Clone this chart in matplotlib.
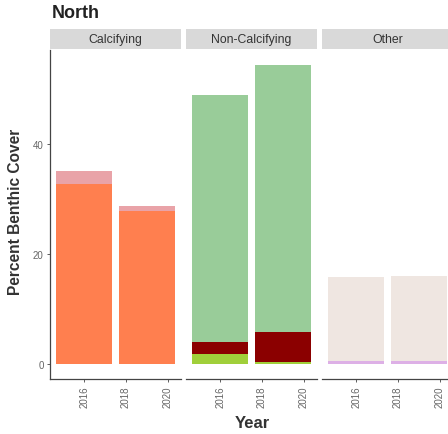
import matplotlib
matplotlib.use("Agg")
import matplotlib.pyplot as plt
import numpy as np

plt.rcParams['font.family'] = ['Liberation Sans', 'DejaVu Sans']

# Survey years (continuous x scale) and tick labels
years = [2016, 2019]
year_ticks = [2016, 2018, 2020]
facets = ["Calcifying", "Non-Calcifying", "Other"]

# Percent benthic cover per group, stacked bottom -> top
calcifying = {
    "Coral": [32.7, 27.8],
    "CCA": [2.4, 1.0],
}
non_calcifying = {
    "Turf": [1.8, 0.3],
    "Macroalgae": [2.3, 5.5],
    "Other algae": [44.8, 48.6],
}
other = {
    "Invertebrates": [0.6, 0.6],
    "Substrate": [15.2, 15.5],
}

colors = {
    "Coral": "#FF7F4F",
    "CCA": "#E9A3A8",
    "Turf": "#A0CF3A",
    "Macroalgae": "#8B0000",
    "Other algae": "#99CC99",
    "Invertebrates": "#DDB0E6",
    "Substrate": "#EFE6E1",
}

W, H = 448, 435
fig = plt.figure(figsize=(W / 100, H / 100), dpi=100)

panel_lefts = [50, 186, 322]
panel_w = 131
panel_top, panel_bot = 51, 380
strip_h = 20

ylim = (-2.72, 57.12)
xlim = (2014.365, 2020.635)
bar_w = 2.7
axis_col = "#444444"
tick_col = "#666666"

for i, (name, data) in enumerate(zip(facets, [calcifying, non_calcifying, other])):
    ax = fig.add_axes([panel_lefts[i] / W, (H - panel_bot) / H,
                       panel_w / W, (panel_bot - panel_top) / H])
    bottom = np.zeros(len(years))
    for grp, vals in data.items():
        ax.bar(years, vals, width=bar_w, bottom=bottom, color=colors[grp],
               edgecolor="none")
        bottom = bottom + np.array(vals)
    ax.set_xlim(*xlim)
    ax.set_ylim(*ylim)
    ax.set_xticks(year_ticks)
    ax.set_xticklabels([str(y) for y in year_ticks], rotation=90,
                       fontsize=7, color=tick_col)
    for s in ["top", "right"]:
        ax.spines[s].set_visible(False)
    ax.spines["bottom"].set_color(axis_col)
    ax.spines["bottom"].set_linewidth(0.9)
    ax.tick_params(axis="x", length=2.5, width=0.6, color=axis_col, pad=2)
    if i == 0:
        ax.spines["left"].set_color(axis_col)
        ax.spines["left"].set_linewidth(0.9)
        ax.set_yticks([0, 20, 40])
        ax.set_yticklabels(["0", "20", "40"], fontsize=7, color=tick_col)
        ax.tick_params(axis="y", length=2.5, width=0.6, color=axis_col, pad=2)
    else:
        ax.spines["left"].set_visible(False)
        ax.set_yticks([])

    # facet strip
    sax = fig.add_axes([panel_lefts[i] / W, (H - panel_top + 1) / H,
                        panel_w / W, strip_h / H])
    sax.set_facecolor("#D9D9D9")
    sax.set_xticks([])
    sax.set_yticks([])
    for s in sax.spines.values():
        s.set_visible(False)
    sax.text(0.5, 0.5, name, ha="center", va="center", fontsize=8.8,
             color="#333333", transform=sax.transAxes)

fig.text(52 / W, 1 - 13 / H, "North", fontsize=13, fontweight="bold",
         ha="left", va="center", color="#222222")
fig.text(16 / W, 1 - 212 / H, "Percent Benthic Cover", rotation=90,
         fontsize=11.2, fontweight="bold", ha="center", va="center",
         color="#333333")
fig.text(252 / W, 1 - 424 / H, "Year", fontsize=12, fontweight="bold",
         ha="center", va="center", color="#333333")

fig.savefig("out.png", dpi=100)
